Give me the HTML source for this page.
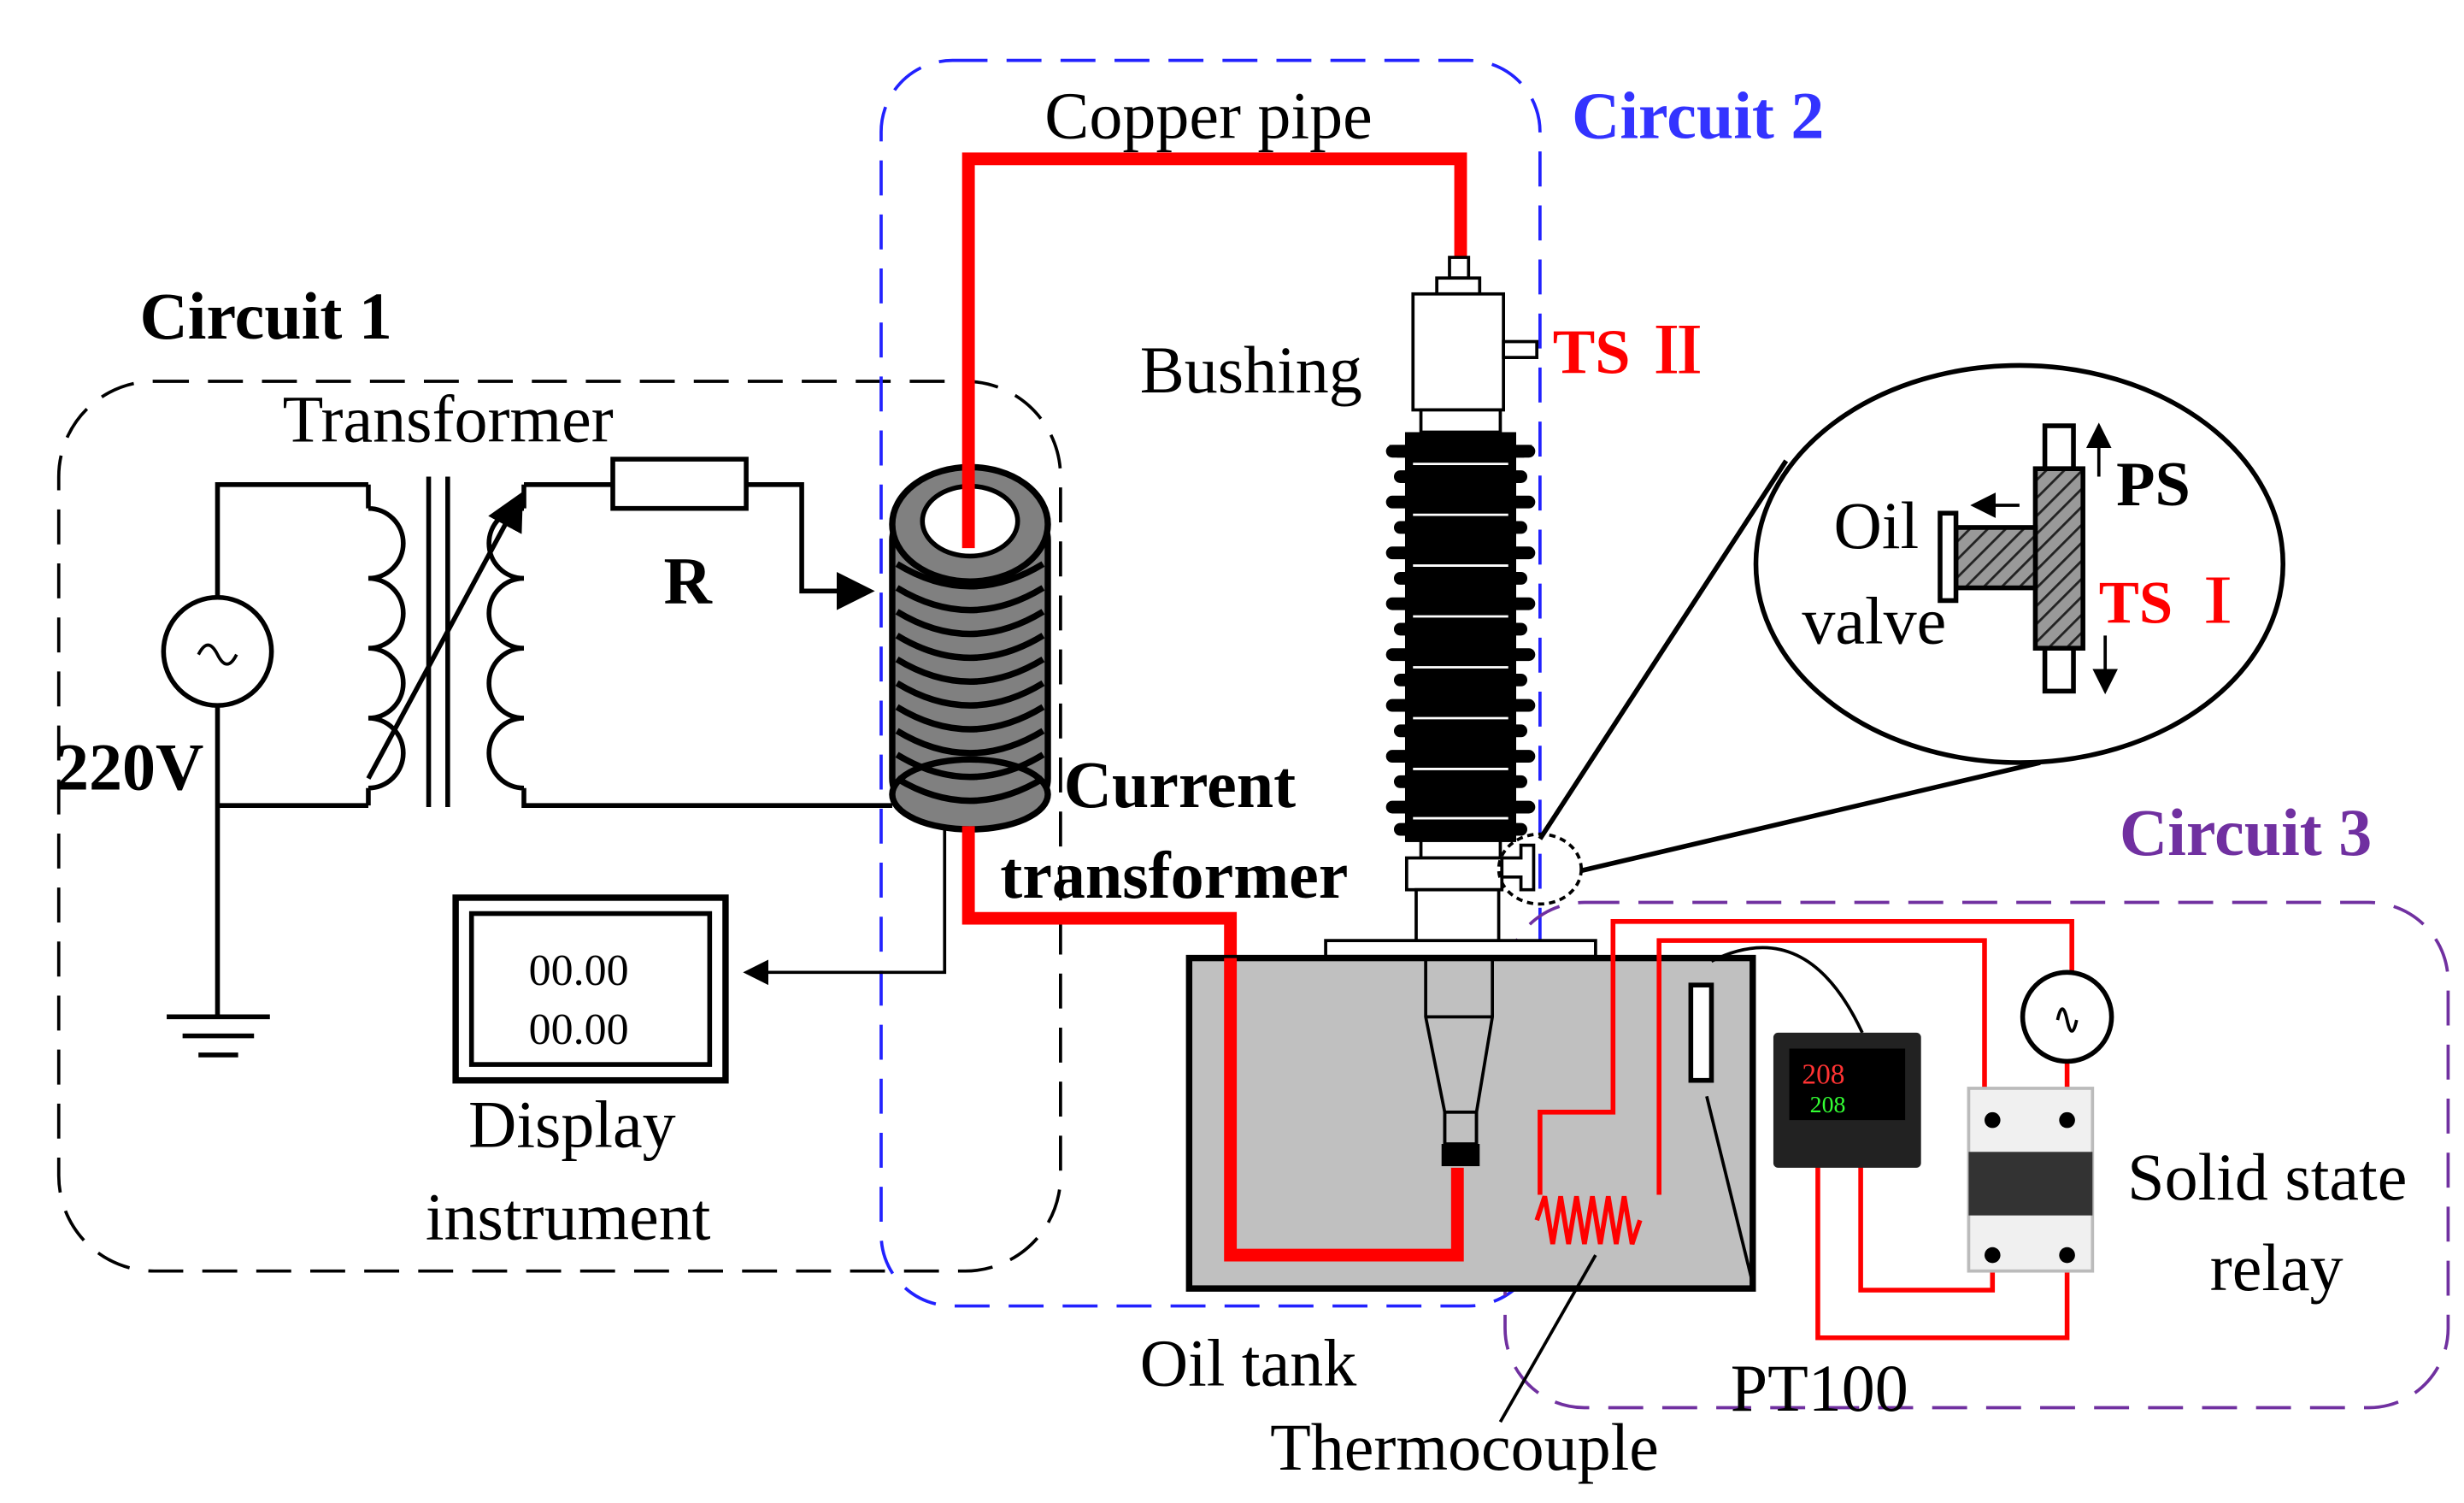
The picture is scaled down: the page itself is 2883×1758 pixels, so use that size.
<!DOCTYPE html>
<html><head><style>
html,body{margin:0;padding:0;background:#fff;}
svg{display:block;}
text{font-family:"Liberation Serif","Noto Serif CJK SC",serif;}
</style></head><body>
<svg width="2883" height="1758" viewBox="0 0 1552 946" preserveAspectRatio="none" xmlns="http://www.w3.org/2000/svg">
<defs>
<pattern id="h" width="8" height="8" patternUnits="userSpaceOnUse" patternTransform="rotate(45)">
<rect width="8" height="8" fill="#999"/><line x1="0" y1="0" x2="0" y2="8" stroke="#222" stroke-width="3"/></pattern>
<marker id="a" markerWidth="8" markerHeight="8" refX="7" refY="4" orient="auto" markerUnits="strokeWidth"><path d="M0,0 L8,4 L0,8z" fill="#000"/></marker>
</defs>
<!-- boxes -->
<rect x="37" y="240" width="631" height="560" rx="60" fill="none" stroke="#000" stroke-width="2" stroke-dasharray="22,12"/>
<rect x="555" y="38" width="415" height="784" rx="45" fill="none" stroke="#2222ff" stroke-width="2" stroke-dasharray="22,12"/>
<rect x="948" y="568" width="594" height="318" rx="50" fill="none" stroke="#7030a0" stroke-width="2" stroke-dasharray="22,12"/>
<!-- labels -->
<text x="88" y="213" font-size="42" font-weight="bold">Circuit 1</text>
<text x="990" y="87" font-size="42" font-weight="bold" fill="#3333ff">Circuit 2</text>
<text x="1335" y="538" font-size="42" font-weight="bold" fill="#7030a0">Circuit 3</text>
<text x="658" y="87" font-size="42">Copper pipe</text>
<text x="178" y="278" font-size="42">Transformer</text>
<text x="418" y="380" font-size="42" font-weight="bold">R</text>
<text x="35" y="497" font-size="42" font-weight="bold">220V</text>
<text x="718" y="247" font-size="42">Bushing</text>
<text x="978" y="235" font-size="40" font-weight="bold" fill="#f00">TS Ⅱ</text>
<text x="670" y="508" font-size="42" font-weight="bold">Current</text>
<text x="630" y="565" font-size="42" font-weight="bold">transformer</text>
<text x="295" y="722" font-size="42">Display</text>
<text x="268" y="780" font-size="42">instrument</text>
<text x="718" y="872" font-size="42">Oil tank</text>
<text x="800" y="925" font-size="42">Thermocouple</text>
<text x="1090" y="888" font-size="42">PT100</text>
<text x="1340" y="755" font-size="42">Solid state</text>
<text x="1392" y="812" font-size="42">relay</text>
<!-- circuit 1 -->
<g fill="none" stroke="#000" stroke-width="3">
<circle cx="137" cy="410" r="34"/>
<path d="M125,412 q6,-12 12,0 t12,0" stroke-width="2"/>
<path d="M137,376 V305 H232 M137,444 V640 M137,507 H232"/>
<path d="M232,320 a13,13 0 0 1 0,44 a13,13 0 0 1 0,44 a13,13 0 0 1 0,44 a13,13 0 0 1 0,44 M232,305 V320 M232,496 V507"/>
<line x1="270" y1="300" x2="270" y2="508"/><line x1="282" y1="300" x2="282" y2="508"/>
<path d="M330,320 a13,13 0 0 0 0,44 a13,13 0 0 0 0,44 a13,13 0 0 0 0,44 a13,13 0 0 0 0,44 M330,305 V320 M330,496 V507 H562"/>
<path d="M330,305 H386 M470,305 H505 V372 H548" marker-end="url(#a)"/>
<rect x="386" y="289" width="84" height="31" fill="#fff"/>
<line x1="232" y1="490" x2="328" y2="312" marker-end="url(#a)"/>
<line x1="105" y1="640" x2="170" y2="640"/><line x1="115" y1="652" x2="160" y2="652"/><line x1="125" y1="664" x2="150" y2="664"/>
<rect x="287" y="565" width="170" height="115" stroke-width="4"/>
<rect x="297" y="575" width="150" height="95" stroke-width="3"/>
<path d="M595,515 V612 H470" stroke-width="2" marker-end="url(#a)"/>
</g>
<text x="333" y="620" font-size="28" font-family="Liberation Sans,sans-serif">00.00</text>
<text x="333" y="657" font-size="28" font-family="Liberation Sans,sans-serif">00.00</text>
<!-- coil -->
<rect x="562" y="320" width="98" height="190" rx="20" fill="#808080" stroke="#000" stroke-width="4"/>
<ellipse cx="611" cy="500" rx="49" ry="22" fill="#808080" stroke="#000" stroke-width="4"/>
<g fill="none" stroke="#000" stroke-width="4">
<path d="M565,355 q46,28 92,0 M565,370 q46,28 92,0 M565,385 q46,28 92,0 M565,400 q46,28 92,0 M565,415 q46,28 92,0 M565,430 q46,28 92,0 M565,445 q46,28 92,0 M565,460 q46,28 92,0 M565,475 q46,28 92,0 M565,490 q46,28 92,0"/>
</g>
<ellipse cx="611" cy="330" rx="49" ry="36" fill="#808080" stroke="#000" stroke-width="4"/>
<ellipse cx="611" cy="328" rx="30" ry="22" fill="#fff" stroke="#000" stroke-width="3"/>
<!-- red pipe -->
<path d="M610,345 V100 H920 V165 M610,520 V578 H775 V790 H918 V735" fill="none" stroke="#f00" stroke-width="8"/>
<!-- oil tank -->
<rect x="835" y="592" width="170" height="10" fill="#fff" stroke="#000" stroke-width="2"/>
<rect x="749" y="603" width="355" height="208" fill="#c0c0c0" stroke="#000" stroke-width="4"/>
<path d="M775,603 V790 H918 V735" fill="none" stroke="#f00" stroke-width="8"/>
<g stroke="#000" stroke-width="2" fill="none">
<path d="M898,603 V640 L910,700 V720 M940,603 V640 L930,700 V720 M898,640 H940"/>
<rect x="910" y="700" width="20" height="20"/>
</g>
<rect x="908" y="720" width="24" height="14" fill="#000"/>
<!-- bushing -->
<g stroke="#000" stroke-width="2" fill="#fff">
<rect x="913" y="162" width="12" height="13"/>
<rect x="905" y="175" width="27" height="10"/>
<rect x="890" y="185" width="57" height="73"/>
<rect x="947" y="215" width="21" height="10"/>
<rect x="895" y="258" width="50" height="14"/>
<rect x="895" y="528" width="50" height="12"/>
<rect x="886" y="540" width="60" height="20"/>
<rect x="892" y="560" width="52" height="32"/>
</g>
<g fill="#000">
<rect x="885" y="272" width="70" height="258"/>
<path d="M875,280 L965,280 L960,288 L880,288 z"/>
</g>
<g stroke="#000" stroke-width="8" stroke-linecap="round">
<line x1="877" y1="284" x2="963" y2="284"/><line x1="882" y1="300" x2="958" y2="300"/><line x1="877" y1="316" x2="963" y2="316"/><line x1="882" y1="332" x2="958" y2="332"/><line x1="877" y1="348" x2="963" y2="348"/><line x1="882" y1="364" x2="958" y2="364"/><line x1="877" y1="380" x2="963" y2="380"/><line x1="882" y1="396" x2="958" y2="396"/><line x1="877" y1="412" x2="963" y2="412"/><line x1="882" y1="428" x2="958" y2="428"/><line x1="877" y1="444" x2="963" y2="444"/><line x1="882" y1="460" x2="958" y2="460"/><line x1="877" y1="476" x2="963" y2="476"/><line x1="882" y1="492" x2="958" y2="492"/><line x1="877" y1="508" x2="963" y2="508"/><line x1="882" y1="522" x2="958" y2="522"/>
</g>
<g stroke="#fff" stroke-width="1.5">
<line x1="890" y1="292" x2="950" y2="292"/><line x1="890" y1="324" x2="950" y2="324"/><line x1="890" y1="356" x2="950" y2="356"/><line x1="890" y1="388" x2="950" y2="388"/><line x1="890" y1="420" x2="950" y2="420"/><line x1="890" y1="452" x2="950" y2="452"/><line x1="890" y1="484" x2="950" y2="484"/><line x1="890" y1="515" x2="950" y2="515"/>
</g>
<!-- magnifier -->
<path d="M946,540 h12 v-8 h8 v28 h-8 v-8 h-12 z" fill="#fff" stroke="#000" stroke-width="2"/>
<ellipse cx="970" cy="547" rx="26" ry="22" fill="none" stroke="#000" stroke-width="2" stroke-dasharray="4,3"/>
<line x1="970" y1="528" x2="1125" y2="290" stroke="#000" stroke-width="3"/>
<line x1="996" y1="548" x2="1285" y2="480" stroke="#000" stroke-width="3"/>
<ellipse cx="1272" cy="355" rx="166" ry="125" fill="#fff" stroke="#000" stroke-width="3"/>
<g stroke="#000" stroke-width="3">
<rect x="1288" y="268" width="18" height="27" fill="#fff"/>
<rect x="1288" y="408" width="18" height="27" fill="#fff"/>
<rect x="1282" y="295" width="30" height="113" fill="url(#h)"/>
<rect x="1232" y="332" width="50" height="38" fill="url(#h)"/>
<rect x="1222" y="323" width="10" height="55" fill="#fff"/>
<line x1="1322" y1="300" x2="1322" y2="268" marker-end="url(#a)" stroke-width="2"/>
<line x1="1326" y1="400" x2="1326" y2="435" marker-end="url(#a)" stroke-width="2"/>
<line x1="1272" y1="318" x2="1243" y2="318" marker-end="url(#a)" stroke-width="2"/>
</g>
<text x="1155" y="345" font-size="42">Oil</text>
<text x="1135" y="405" font-size="42">valve</text>
<text x="1333" y="318" font-size="40" font-weight="bold">PS</text>
<text x="1322" y="392" font-size="38" font-weight="bold" fill="#f00">TS Ⅰ</text>
<!-- circuit 3 -->
<g fill="none" stroke="#f00" stroke-width="3">
<path d="M970,752 V700 H1016 V580 H1305 V612"/>
<path d="M1045,752 V592 H1250 V705"/>
<path d="M968,768 l5,-15 l5,30 l5,-30 l5,30 l5,-30 l5,30 l5,-30 l5,30 l5,-30 l5,30 l5,-30 l5,30 l5,-15"/>
<path d="M1255,790 V812 H1172 V732"/>
<path d="M1302,790 V842 H1145 V732"/>
<path d="M1302,668 V705"/>
</g>
<circle cx="1302" cy="640" r="28" fill="#fff" stroke="#000" stroke-width="3"/>
<path d="M1296,642 q3,-14 6,0 t6,0" fill="none" stroke="#000" stroke-width="2"/>
<rect x="1065" y="620" width="13" height="60" fill="#fff" stroke="#000" stroke-width="3"/>
<path d="M1078,605 q60,-30 95,45" fill="none" stroke="#000" stroke-width="2"/>
<line x1="1075" y1="690" x2="1105" y2="812" stroke="#000" stroke-width="2"/>
<line x1="1005" y1="790" x2="945" y2="895" stroke="#000" stroke-width="2"/>
<rect x="1117" y="650" width="93" height="85" rx="3" fill="#222"/>
<rect x="1127" y="660" width="73" height="45" fill="#000"/>
<text x="1135" y="682" font-size="18" fill="#f33" font-family="Liberation Mono,monospace">208</text>
<text x="1140" y="700" font-size="15" fill="#3f3" font-family="Liberation Mono,monospace">208</text>
<rect x="1240" y="685" width="78" height="115" fill="#f0f0f0" stroke="#bbb" stroke-width="2"/>
<rect x="1240" y="725" width="78" height="40" fill="#333"/>
<circle cx="1255" cy="705" r="5" fill="#000"/><circle cx="1302" cy="705" r="5" fill="#000"/>
<circle cx="1255" cy="790" r="5" fill="#000"/><circle cx="1302" cy="790" r="5" fill="#000"/>
</svg>
</body></html>
